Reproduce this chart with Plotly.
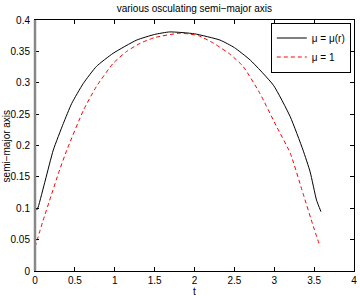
import plotly.graph_objects as go

# data
t_mu_r = [0.02, 0.04, 0.13, 0.23, 0.355, 0.46, 0.606, 0.77, 0.98, 1.275, 1.5, 1.69,
          2.0, 2.32, 2.5, 2.70, 2.99, 3.20, 3.36, 3.45, 3.53, 3.586]
a_mu_r = [0.097, 0.102, 0.145, 0.193, 0.235, 0.267, 0.299, 0.326, 0.347, 0.368, 0.377, 0.381,
          0.378, 0.368, 0.356, 0.336, 0.296, 0.246, 0.193, 0.158, 0.113, 0.0945]

t_mu_1 = [0.0, 0.1, 0.2, 0.3, 0.4, 0.61, 0.77, 0.98, 1.15, 1.32, 1.5, 1.82, 2.05, 2.24,
          2.45, 2.61, 2.82, 3.03, 3.20, 3.36, 3.49, 3.574]
a_mu_1 = [0.038, 0.080, 0.119, 0.158, 0.193, 0.257, 0.294, 0.331, 0.350, 0.363, 0.372, 0.379,
          0.375, 0.363, 0.345, 0.326, 0.283, 0.230, 0.188, 0.124, 0.071, 0.039]

x_ticks = [0, 0.5, 1, 1.5, 2, 2.5, 3, 3.5, 4]
x_tick_labels = ["0", "0.5", "1", "1.5", "2", "2.5", "3", "3.5", "4"]
y_ticks = [0, 0.05, 0.1, 0.15, 0.2, 0.25, 0.3, 0.35, 0.4]
y_tick_labels = ["0", "0.05", "0.1", "0.15", "0.2", "0.25", "0.3", "0.35", "0.4"]

FONT = "Liberation Sans, Arial, Helvetica, sans-serif"

fig = go.Figure()
fig.add_trace(go.Scatter(x=t_mu_r, y=a_mu_r, mode="lines", name="μ = μ(r)",
                         line=dict(color="black", width=1, shape="spline", smoothing=0.5)))
fig.add_trace(go.Scatter(x=t_mu_1, y=a_mu_1, mode="lines", name="μ = 1",
                         line=dict(color="#ff0000", width=1, dash="4px,3px",
                                   shape="spline", smoothing=0.5)))

fig.update_layout(
    width=360, height=296,
    margin=dict(l=35, r=6, t=20, b=25, autoexpand=False),
    paper_bgcolor="white", plot_bgcolor="white",
    font=dict(family=FONT, size=10, color="black"),
    title=dict(text="various osculating semi−major axis", x=0.54, xanchor="center",
               y=0.972, yanchor="middle", font=dict(size=10)),
    showlegend=True,
    legend=dict(x=0.99, xanchor="right", y=0.99, yanchor="top",
                bordercolor="black", borderwidth=1, bgcolor="white",
                font=dict(size=10), tracegroupgap=0, itemwidth=30),
    xaxis=dict(range=[0, 4], tickvals=x_ticks, ticktext=x_tick_labels,
               showgrid=False, zeroline=False, showline=True, linecolor="black",
               linewidth=1, mirror="ticks", ticks="inside", ticklen=4,
               tickcolor="black", automargin=False, ticklabelstandoff=0),
    yaxis=dict(range=[0, 0.4], tickvals=y_ticks, ticktext=y_tick_labels,
               showgrid=False, zeroline=False, showline=True, linecolor="black",
               linewidth=1, mirror="ticks", ticks="inside", ticklen=4,
               tickcolor="black", automargin=False, ticklabelstandoff=2),
    annotations=[
        dict(text="t", xref="paper", yref="paper", x=0.5, y=-0.082,
             xanchor="center", yanchor="middle", showarrow=False, font=dict(size=10)),
        dict(text="semi−major axis", xref="paper", yref="paper", x=-0.088, y=0.5,
             xanchor="center", yanchor="middle", textangle=-90, showarrow=False,
             font=dict(size=10)),
    ],
)
fig.add_shape(type="line", xref="paper", yref="paper", x0=0, x1=0, y0=0, y1=1,
              line=dict(color="#888888", width=2.5), layer="above")

fig.write_html("out.html", config={"displayModeBar": False},
               post_script="document.body.style.margin='0';document.body.style.overflow='hidden';")
